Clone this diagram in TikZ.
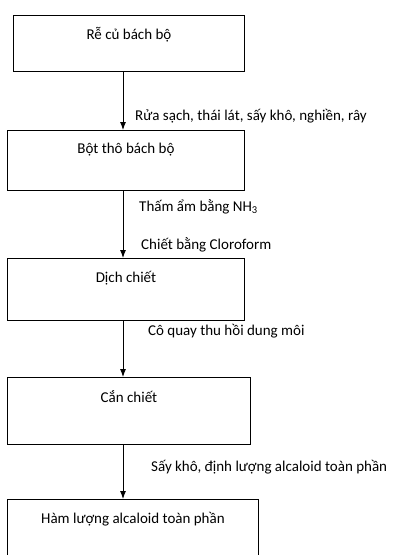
\documentclass[tikz,border=0pt]{standalone}
\usepackage{fontspec}
\setmainfont{Carlito}
\usetikzlibrary{positioning, arrows.meta}

\begin{document}
\begin{tikzpicture}[x=1pt, y=1pt, >={Latex[length=8pt, width=6pt]}, font=\fontsize{15}{18}\selectfont]
        % Styles
        \tikzstyle{block} = [draw, rectangle, anchor=north west, inner sep=0pt, line width=0.9pt]
        \tikzstyle{heading} = [anchor=center, yshift=-20pt, inner sep=0pt]
        \tikzstyle{note} = [anchor=west, inner sep=0pt]
        \tikzstyle{flow} = [->, line width=0.9pt]

        \useasboundingbox (0,0) rectangle (393,-555);

        % Khối các bước
        \node [block, minimum width=231pt, minimum height=56pt, label={[heading]north:Rễ củ bách bộ}] (root) at (13,-15) {};
        \node [block, minimum width=237pt, minimum height=60pt, label={[heading]north:Bột thô bách bộ}] (powder) at (7,-130) {};
        \node [block, minimum width=237pt, minimum height=62pt, label={[heading]north:Dịch chiết}] (extract) at (7,-258) {};
        \node [block, minimum width=243pt, minimum height=67pt, label={[heading]north:Cắn chiết}] (residue) at (7,-377) {};
        \node [block, minimum width=251pt, minimum height=71pt, label={[heading]north:Hàm lượng alcaloid toàn phần}] (content) at (7,-499) {};

        % Trục mũi tên
        \coordinate (axis) at (123,0);

        % Mũi tên
        \draw [flow] (root.south -| axis) -- (powder.north -| axis);
        \draw [flow] (powder.south -| axis) -- (extract.north -| axis);
        \draw [flow] (extract.south -| axis) -- (residue.north -| axis);
        \draw [flow] (residue.south -| axis) -- (content.north -| axis);

        % Chú thích các bước
        \node [note] (wash) at (135,-116) {Rửa sạch, thái lát, sấy khô, nghiền, rây};
        \node [note] (moist) at (139,-207) {Thấm ẩm bằng NH\textsubscript{3}};
        \node [note] (chloro) at (141,-245) {Chiết bằng Cloroform};
        \node [note] (evap) at (148,-331) {Cô quay thu hồi dung môi};
        \node [note] (dry) at (151,-467) {Sấy khô, định lượng alcaloid toàn phần};

    \end{tikzpicture}
\end{document}
